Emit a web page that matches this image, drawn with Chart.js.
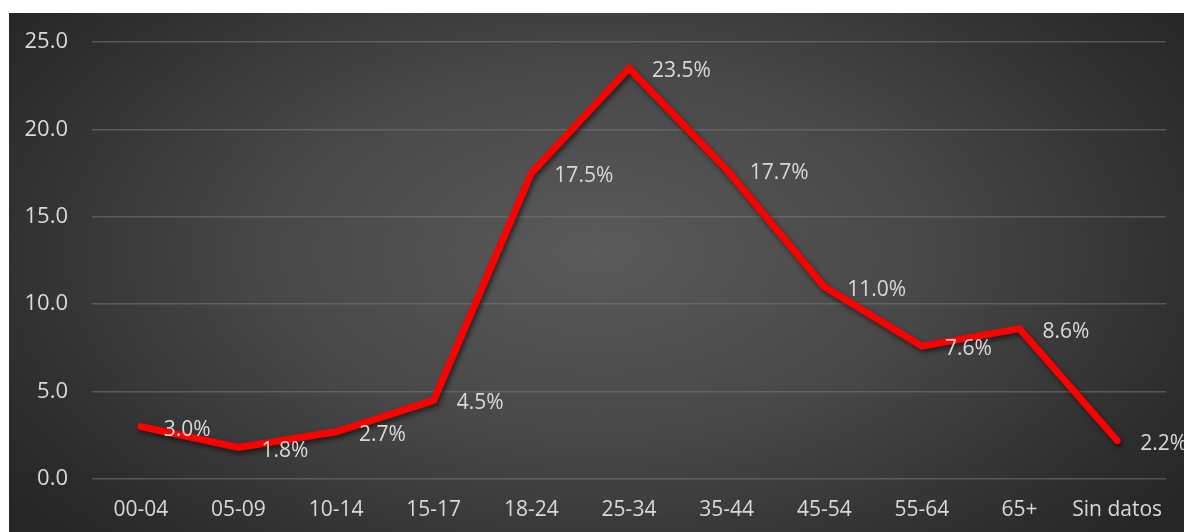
<!DOCTYPE html>
<html>
<head>
<meta charset="utf-8">
<script src="https://cdn.jsdelivr.net/npm/chart.js@4/dist/chart.umd.min.js"></script>
<style>
  html, body { margin: 0; padding: 0; background: #fff; overflow: hidden; }
  #wrap {
    position: absolute; left: 9px; top: 13px; width: 1175px; height: 519px;
    background: radial-gradient(ellipse 62% 80% at 50% 46%, #5a5a5a 0%, #484848 45%, #2e2e2e 85%, #262626 100%);
  }
</style>
</head>
<body>
<div id="wrap"><canvas id="chart"></canvas></div>
<script>
// age groups and share of cases (%)
const categories = ['00-04', '05-09', '10-14', '15-17', '18-24', '25-34', '35-44', '45-54', '55-64', '65+', 'Sin datos'];
const values = [3.0, 1.8, 2.7, 4.5, 17.5, 23.5, 17.7, 11.0, 7.6, 8.6, 2.2];
const yTicks = [0, 5, 10, 15, 20, 25];

const FONT = '"Open Sans", "DejaVu Sans", sans-serif';
const TEXT = '#d9d9d9';

// soft shadow under the line, like the Excel effect
const lineShadow = {
    id: 'lineShadow',
    beforeDatasetDraw(chart) {
        const ctx = chart.ctx;
        ctx.save();
        ctx.shadowColor = 'rgba(0,0,0,0.55)';
        ctx.shadowBlur = 5;
        ctx.shadowOffsetX = 2;
        ctx.shadowOffsetY = 3;
    },
    afterDatasetDraw(chart) {
        chart.ctx.restore();
    }
};

// value labels to the right of each point
const valueLabels = {
    id: 'valueLabels',
    afterDatasetsDraw(chart) {
        const ctx = chart.ctx;
        const meta = chart.getDatasetMeta(0);
        ctx.save();
        ctx.font = '21px ' + FONT;
        ctx.fillStyle = TEXT;
        ctx.textAlign = 'left';
        ctx.textBaseline = 'middle';
        meta.data.forEach((pt, i) => {
            ctx.fillText(values[i].toFixed(1) + '%', pt.x + 23, pt.y + 3);
        });
        ctx.restore();
    }
};

new Chart(document.getElementById('chart'), {
    type: 'line',
    data: {
        labels: categories,
        datasets: [{
            data: values,
            borderColor: '#ff0000',
            borderWidth: 7,
            borderCapStyle: 'round',
            borderJoinStyle: 'miter',
            pointRadius: 0,
            pointHoverRadius: 0,
            tension: 0,
            fill: false
        }]
    },
    options: {
        responsive: true,
        maintainAspectRatio: false,
        devicePixelRatio: 1,
        animation: false,
        layout: { padding: { top: 29, right: 18, bottom: 0, left: 0 } },
        plugins: {
            legend: { display: false },
            tooltip: { enabled: false }
        },
        scales: {
            x: {
                offset: true,
                grid: { display: false, drawTicks: false },
                border: { display: false },
                ticks: { color: TEXT, font: { family: FONT, size: 21 }, padding: 18, maxRotation: 0, autoSkip: false },
                afterFit(scale) { scale.height = 53; }
            },
            y: {
                min: 0,
                max: 25,
                afterBuildTicks(scale) { scale.ticks = yTicks.map(v => ({ value: v })); },
                grid: { color: 'rgba(120,120,120,0.55)', lineWidth: 1.5, drawTicks: false },
                border: { display: false },
                ticks: {
                    color: TEXT,
                    font: { family: FONT, size: 22 },
                    padding: 24,
                    callback: v => Number(v).toFixed(1)
                },
                afterFit(scale) {
                    scale.width = 83;
                    scale.paddingTop = 0;
                    scale.paddingBottom = 0;
                }
            }
        }
    },
    plugins: [lineShadow, valueLabels]
});
</script>
</body>
</html>
